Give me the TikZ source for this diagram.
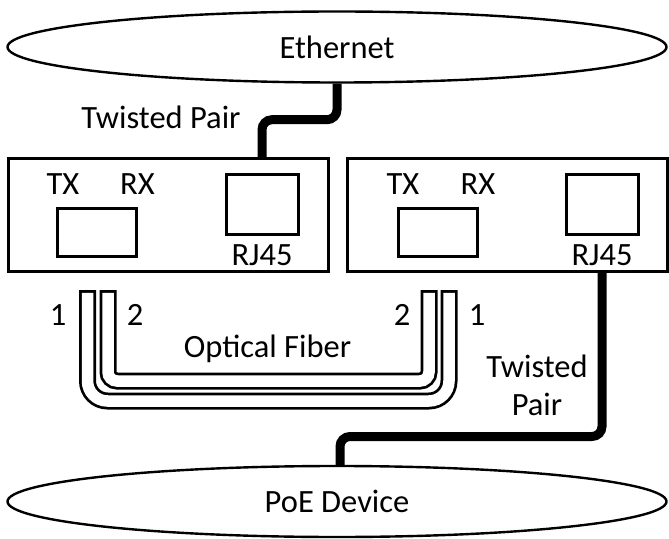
\documentclass[tikz,border=0pt]{standalone}
\usepackage{fontspec}
\setmainfont{Carlito}
\usetikzlibrary{positioning, shapes.geometric}

\begin{document}
\begin{tikzpicture}[
    x=1bp, y=1bp,
    every node/.style={font=\fontsize{32.5bp}{38bp}\selectfont},
    net/.style={ellipse, draw, line width=2.4bp, inner sep=0pt,
                minimum width=659bp, minimum height=71bp},
    unit/.style={draw, line width=3bp, minimum width=320bp, minimum height=113bp},
    port/.style={draw, line width=3bp, minimum width=79bp, minimum height=48bp},
    jack/.style={draw, line width=3bp, minimum width=72bp, minimum height=60bp},
    lbl/.style={anchor=base, inner sep=0pt},
    cable/.style={line width=9bp, rounded corners=10bp},
    tube/.style={line width=17bp},
    core/.style={white, line width=11.5bp, shorten <=2.75bp, shorten >=2.75bp}
  ]
    \useasboundingbox (0,0) rectangle (669,-539);

    \node[net] (eth) at (337,-47) {Ethernet};
    \node[net] (poe) at (337,-501.5) {PoE Device};

    \node[unit] (lbox) at (168.5,-215) {};
    \node[unit] (rbox) at (507.5,-215) {};
    \node[port] (lport) at (97,-232.5) {};
    \node[port] (rport) at (438,-232.5) {};
    \node[jack] (ljack) at (262,-204.5) {};
    \node[jack] (rjack) at (602,-204.5) {};

    \node[lbl] (ltx) at (63,-195) {TX};
    \node[lbl] (lrx) at (137.5,-195) {RX};
    \node[lbl] (lrj) at (262,-266) {RJ45};
    \node[lbl] (rtx) at (403,-195) {TX};
    \node[lbl] (rrx) at (478,-195) {RX};
    \node[lbl] (rrj) at (602,-266) {RJ45};

    \node[lbl] (tpup) at (161,-129) {Twisted Pair};
    \node[lbl, align=center] (tplow) at (537,-415) {Twisted\\Pair};
    \node[lbl] (fib) at (267.5,-357) {Optical Fiber};
    \node[lbl] (l1) at (58,-325) {1};
    \node[lbl] (l2) at (135,-325) {2};
    \node[lbl] (r2) at (402,-325) {2};
    \node[lbl] (r1) at (477,-325) {1};

    \draw[cable] (eth.south) -- ++(0,-36) -| (ljack |- lbox.north);
    \draw[cable] (rjack |- rbox.south) -- ++(0,-163.5) -| ([xshift=3bp]poe.north);

    \coordinate (f1l) at (87.5,-290);
    \coordinate (f1r) at (449,-290);
    \coordinate (f2l) at (108,-290);
    \coordinate (f2r) at (429,-290);
    \draw[tube, rounded corners=20bp] (f1l) -- ++(0,-111) -| (f1r);
    \draw[core, rounded corners=20bp] (f1l) -- ++(0,-111) -| (f1r);
    \draw[tube, rounded corners=9bp] (f2l) -- ++(0,-91) -| (f2r);
    \draw[core, rounded corners=9bp] (f2l) -- ++(0,-91) -| (f2r);
\end{tikzpicture}
\end{document}
